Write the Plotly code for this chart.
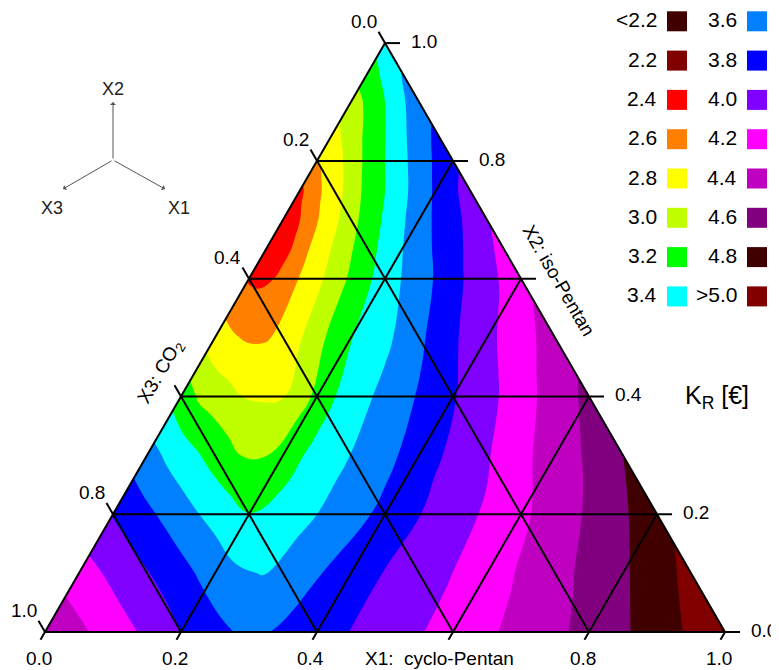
import numpy as np
import plotly.graph_objects as go

# ---------------- data ----------------
# grid of compositions: rows of constant X2 (iso-Pentan); along each row
# u = X1 / (X1 + X3) runs from the left edge (u=0) to the right edge (u=1)
u_frac = [0.0, 0.05, 0.1, 0.15, 0.2, 0.25, 0.3, 0.35, 0.4, 0.5, 0.6, 0.7, 0.8, 0.9, 1.0]
x2_rows = [0.0, 0.1, 0.2, 0.3, 0.4, 0.5, 0.6, 0.65, 0.7, 0.75, 0.8, 0.9, 1.0]

# K_R [EUR] read along each row
K_x2_000 = [4.57, 4.44, 4.30, 4.16, 4.00, 3.86, 3.75, 3.83, 3.92, 4.09, 4.28, 4.46, 4.66, 4.89, 5.18]
K_x2_010 = [4.29, 4.17, 4.04, 3.91, 3.77, 3.64, 3.59, 3.695, 3.806, 4.01, 4.18, 4.376, 4.58, 4.80, 5.06]
K_x2_020 = [3.99, 3.87, 3.75, 3.62, 3.51, 3.405, 3.45, 3.55, 3.65, 3.853, 4.077, 4.249, 4.47, 4.68, 4.93]
K_x2_030 = [3.68, 3.55, 3.43, 3.31, 3.195, 3.195, 3.33, 3.45, 3.55, 3.74, 3.96, 4.15, 4.38, 4.57, 4.80]
K_x2_040 = [3.31, 3.16, 3.08, 3.00, 2.98, 2.99, 3.13, 3.32, 3.46, 3.66, 3.85, 4.05, 4.24, 4.46, 4.65]
K_x2_050 = [2.90, 2.82, 2.775, 2.78, 2.85, 2.98, 3.13, 3.27, 3.39, 3.55, 3.76, 3.97, 4.15, 4.32, 4.50]
K_x2_060 = [2.58, 2.555, 2.61, 2.73, 2.84, 2.95, 3.06, 3.18, 3.29, 3.50, 3.67, 3.84, 4.02, 4.17, 4.35]
K_x2_065 = [2.46, 2.50, 2.585, 2.72, 2.85, 2.95, 3.06, 3.17, 3.27, 3.465, 3.643, 3.804, 3.96, 4.10, 4.27]
K_x2_070 = [2.46, 2.54, 2.63, 2.75, 2.86, 2.95, 3.06, 3.16, 3.26, 3.43, 3.60, 3.76, 3.90, 4.03, 4.18]
K_x2_075 = [2.56, 2.65, 2.75, 2.84, 2.918, 2.995, 3.09, 3.183, 3.258, 3.40, 3.548, 3.692, 3.832, 3.968, 4.075]
K_x2_080 = [2.79, 2.84, 2.90, 2.95, 3.01, 3.08, 3.16, 3.22, 3.28, 3.40, 3.52, 3.64, 3.75, 3.86, 3.96]
K_x2_090 = [3.11, 3.135, 3.16, 3.185, 3.215, 3.245, 3.28, 3.31, 3.34, 3.40, 3.47, 3.54, 3.60, 3.66, 3.71]
K_x2_100 = [3.50, 3.50, 3.50, 3.50, 3.50, 3.50, 3.50, 3.50, 3.50, 3.50, 3.50, 3.50, 3.50, 3.50, 3.50]

K_rows = [K_x2_000, K_x2_010, K_x2_020, K_x2_030, K_x2_040, K_x2_050, K_x2_060,
          K_x2_065, K_x2_070, K_x2_075, K_x2_080, K_x2_090, K_x2_100]

# colour classes
level_start, level_end, level_step = 2.2, 5.0, 0.2
class_labels = ["<2.2", "2.2", "2.4", "2.6", "2.8", "3.0", "3.2", "3.4",
                "3.6", "3.8", "4.0", "4.2", "4.4", "4.6", "4.8", ">5.0"]
class_colors = ["#400000", "#800000", "#FF0000", "#FF8000", "#FFFF00", "#C0FF00",
                "#00FF00", "#00FFFF", "#0080FF", "#0000FF", "#8000FF", "#FF00FF",
                "#C000C0", "#800080", "#400000", "#800000"]

# ternary axis ticks
tick_vals = [0.0, 0.2, 0.4, 0.6, 0.8, 1.0]
tick_text = ["0.0", "0.2", "0.4", "0.6", "0.8", "1.0"]

# ---------------- geometry helpers ----------------
H = np.sqrt(3) / 2
PX = 1.0 / 680.0            # data units per pixel (triangle base = 680 px)
OX, OY = 45.0, 632.0        # window-pixel position of the bottom-left corner
PAGE = 8.0                  # default page margin of the html body


def txy(x1, x2):
    """ternary (X1, X2) -> cartesian data coords"""
    return x1 + x2 / 2.0, x2 * H


def p2d(px, py):
    """window pixel -> data coords"""
    return (px - OX) * PX, (OY - py) * PX


# carpet coordinates for the composition grid
cx, cy = [], []
for v in x2_rows:
    rx, ry = [], []
    for u in u_frac:
        x, y = txy(u * (1 - v), v)
        rx.append(x)
        ry.append(y)
    cx.append(rx)
    cy.append(ry)

# stepped colour scale: one flat colour per class
n = len(class_colors)
cscale = []
for i, c in enumerate(class_colors):
    lo = 0.0 if i == 0 else (i - 0.5) / (n - 1)
    hi = 1.0 if i == n - 1 else (i + 0.5) / (n - 1)
    cscale.append([lo, c])
    cscale.append([hi, c])

fig = go.Figure()

hide_ax = dict(smoothing=0, showgrid=False, showline=False, showticklabels="none",
               startline=False, endline=False, minorgridcount=0,
               title=dict(text=""), color="rgba(0,0,0,0)")
fig.add_trace(go.Carpet(carpet="tern", a=u_frac, b=x2_rows, x=cx, y=cy,
                        aaxis=hide_ax, baxis=hide_ax))
fig.add_trace(go.Contourcarpet(
    carpet="tern", a=u_frac, b=x2_rows, z=K_rows,
    autocontour=False,
    contours=dict(start=level_start, end=level_end, size=level_step,
                  coloring="fill", showlines=False),
    colorscale=cscale, showscale=False,
    line=dict(width=0, smoothing=1.3),
))

# ---------------- ternary grid + ticks ----------------
RT, BT, LT = 15, 9, 13      # tick lengths in px (right, bottom, left)
gx, gy = [], []
for t in tick_vals:
    # constant X2 (horizontal), tick to the right
    xa, ya = txy(0, t)
    xb, yb = txy(1 - t, t)
    gx += [xa, xb + RT * PX, None]
    gy += [ya, yb, None]
    # constant X1, tick below (down-left)
    xa, ya = txy(t, 0)
    xb, yb = txy(t, 1 - t)
    gx += [xa - 0.5 * BT * PX, xb, None]
    gy += [ya - H * BT * PX, yb, None]
    # constant X3, tick on the left (up-left)
    xa, ya = txy(0, 1 - t)
    xb, yb = txy(1 - t, 0)
    gx += [xa - 0.5 * LT * PX, xb, None]
    gy += [ya + H * LT * PX, yb, None]

fig.add_trace(go.Scatter(x=gx, y=gy, mode="lines",
                         line=dict(color="black", width=2),
                         hoverinfo="skip", showlegend=False))

FONT = "Liberation Sans, Arial, sans-serif"
ann = []
for t, lab in zip(tick_vals, tick_text):
    if lab == "0.6":
        continue
    # right axis (X2)
    xb, yb = txy(1 - t, t)
    ann.append(dict(x=xb + (RT + 9) * PX, y=yb + 1.5 * PX, text=lab, xanchor="left",
                    yanchor="middle", showarrow=False, font=dict(size=19, color="black", family=FONT)))
    # bottom axis (X1)
    xa, ya = txy(t, 0)
    ann.append(dict(x=xa - 0.5 * BT * PX - 2 * PX, y=ya - 26 * PX, text=lab, xanchor="center",
                    yanchor="middle", showarrow=False, font=dict(size=19, color="black", family=FONT)))
    # left axis (X3)
    xa, ya = txy(0, 1 - t)
    ann.append(dict(x=xa - 0.5 * LT * PX, y=ya + H * LT * PX + 10 * PX, text=lab, xanchor="right",
                    yanchor="middle", showarrow=False, font=dict(size=19, color="black", family=FONT)))

# axis titles
x, y = p2d(439, 658)
ann.append(dict(x=x, y=y, text="X1:  cyclo-Pentan", showarrow=False, xanchor="center",
                yanchor="middle", font=dict(size=19, color="black", family=FONT)))
x, y = p2d(559, 280)
ann.append(dict(x=x, y=y, text="X2: iso-Pentan", showarrow=False, textangle=60,
                xanchor="center", yanchor="middle", font=dict(size=19, color="black", family=FONT)))
x, y = p2d(161, 372)
ann.append(dict(x=x, y=y, text="X3: CO<sub>2</sub>", showarrow=False, textangle=-60,
                xanchor="center", yanchor="middle", font=dict(size=19, color="black", family=FONT)))
x, y = p2d(717, 397)
ann.append(dict(x=x, y=y, text="K<sub>R</sub> [€]", showarrow=False, xanchor="center",
                yanchor="middle", font=dict(size=25, color="black", family=FONT)))

# orientation icon
cxp, cyp = 113, 160
for (tx, ty), lab, (lx, ly) in [((113, 102), "X2", (113, 89)),
                                ((63, 189), "X3", (52, 208)),
                                ((165, 189), "X1", (179, 208))]:
    x0, y0 = p2d(cxp, cyp)
    x1, y1 = p2d(tx, ty)
    ann.append(dict(x=x1, y=y1, ax=x0, ay=y0, axref="x", ayref="y", text="",
                    showarrow=True, arrowhead=1, arrowsize=1.0, arrowwidth=1,
                    arrowcolor="#555555"))
    lx_, ly_ = p2d(lx, ly)
    ann.append(dict(x=lx_, y=ly_, text=lab, showarrow=False, xanchor="center", yanchor="middle",
                    font=dict(size=18, color="#222222", family=FONT)))

# legend (two columns)
shapes = []
for i, (lab, col) in enumerate(zip(class_labels, class_colors)):
    colm, row = divmod(i, 8)
    sx0 = 667 + 80 * colm
    yc = 21.3 + 39.3 * row
    x0, y0 = p2d(sx0, yc + 10)
    x1, y1 = p2d(sx0 + 20, yc - 10)
    shapes.append(dict(type="rect", x0=x0, y0=y0, x1=x1, y1=y1, fillcolor=col,
                       line=dict(width=0), layer="above"))
    lx_, ly_ = p2d(sx0 - 8, yc - 1.5)
    ann.append(dict(x=lx_, y=ly_, text=lab, showarrow=False, xanchor="right", yanchor="middle",
                    font=dict(size=21, color="black", family=FONT)))

# figure pixel (0,0) sits at window pixel (PAGE, PAGE)
xr0, _ = p2d(PAGE, 0)
xr1, _ = p2d(PAGE + 779, 0)
_, yr1 = p2d(0, PAGE)
_, yr0 = p2d(0, PAGE + 670)
fig.update_layout(
    width=779, height=670, autosize=False,
    margin=dict(l=0, r=0, t=0, b=0, pad=0),
    paper_bgcolor="white", plot_bgcolor="white",
    xaxis=dict(range=[xr0, xr1], visible=False, fixedrange=True),
    yaxis=dict(range=[yr0, yr1], visible=False, fixedrange=True),
    showlegend=False, annotations=ann, shapes=shapes,
)

fig.write_html("out.html")
